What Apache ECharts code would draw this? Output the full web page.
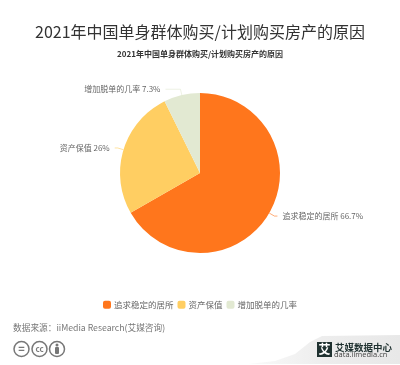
<!DOCTYPE html>
<html>
<head>
<meta charset="utf-8">
<style>
html,body{margin:0;padding:0;background:#fff}
#chart{width:400px;height:365px}
</style>
<script src="https://cdn.jsdelivr.net/npm/echarts@6/dist/echarts.min.js"></script>
</head>
<body>
<div id="chart"></div>
<script>
var cjk = '"Noto Sans CJK SC"';
var categories = ['追求稳定的居所', '资产保值', '增加脱单的几率'];
var values = [66.7, 26, 7.3];
var colors = ['#FF761C', '#FFCE62', '#E2E9D2'];
var mainTitle = '2021年中国单身群体购买/计划购买房产的原因';
var sourceText = '数据来源：iiMedia Research(艾媒咨询)';

var chart = echarts.init(document.getElementById('chart'));

//右下角logo和cc图标
function ccIcon(cx, label, font){
	return [{
		type: 'circle', shape: {cx: cx, cy: 349, r: 7.5}, style: {fill: '#fff', stroke: '#777', lineWidth: 1.5}
	}, {
		type: 'text', x: cx, y: 349,
		style: {text: label, font: font + ' ' + cjk, fill: '#777', align: 'center', verticalAlign: 'middle'}
	}];
}
var graphics = [{
	type: 'polygon',
	shape: {points: [[248, 364], [275, 361], [295, 354], [310, 342], [322, 336], [400, 335], [400, 364]]},
	style: {fill: new echarts.graphic.LinearGradient(0, 0, 1, 0, [
		{offset: 0, color: '#FAFAFA'},
		{offset: 0.5, color: '#EDEDED'},
		{offset: 1, color: '#E8E8E8'}
	])}
}, {
	type: 'rect', shape: {x: 317, y: 342, width: 15, height: 15},
	style: {fill: '#1F3130'}
}, {
	type: 'text', x: 324.5, y: 349.5,
	style: {text: '艾', font: 'bold 12px ' + cjk, fill: '#fff', align: 'center', verticalAlign: 'middle'}
}, {
	type: 'text', x: 335, y: 347,
	style: {text: '艾媒数据中心', font: 'bold 9.5px ' + cjk, fill: '#1F3130', verticalAlign: 'middle'}
}, {
	type: 'text', x: 334, y: 354.5,
	style: {text: 'data.iimedia.cn', font: '7.5px "Open Sans"', fill: '#444', verticalAlign: 'middle'}
}].concat(ccIcon(21.5, '=', 'bold 11px'), ccIcon(39.5, 'cc', 'bold 8px'), [{
	type: 'circle', shape: {cx: 57, cy: 349, r: 7.5}, style: {fill: '#fff', stroke: '#777', lineWidth: 1.5}
}, {
	type: 'circle', shape: {cx: 57, cy: 345, r: 1.5}, style: {fill: '#777'}
}, {
	type: 'rect', shape: {x: 55, y: 347, width: 4, height: 7, r: 1}, style: {fill: '#777'}
}]);

var option = {
	backgroundColor: '#fff',
	animation: false,
	color: colors,
	title: [{
		text: mainTitle, left: 'center', top: 19,
		textStyle: {fontFamily: cjk, fontSize: 16, fontWeight: 'normal', color: '#333'}
	}, {
		text: mainTitle, left: 'center', top: 45,
		textStyle: {fontFamily: cjk, fontSize: 8, fontWeight: 'bold', color: '#333'}
	}, {
		text: sourceText, left: 8, top: 318,
		textStyle: {fontFamily: cjk, fontSize: 8.7, fontWeight: 'normal', color: '#777'}
	}],
	legend: {
		bottom: 51,
		left: 'center',
		itemWidth: 8,
		itemHeight: 8,
		itemGap: 4,
		icon: 'roundRect',
		textStyle: {fontFamily: cjk, fontSize: 8.5, color: '#666', padding: [0, 0, 0, -2]},
		data: categories
	},
	series: [{
		type: 'pie',
		center: [200, 173],
		radius: [0, 80],
		startAngle: 90,
		label: {
			formatter: '{b} {c}%',
			fontFamily: cjk,
			fontSize: 8,
			color: '#666'
		},
		labelLine: {length: 6, length2: 3, lineStyle: {width: 0.6}},
		itemStyle: {borderWidth: 0},
		data: categories.map(function(name, i){
			var item = {name: name, value: values[i]};
			//第三项引导线要长一点
			if(i == 2){
				item.labelLine = {length: 6, length2: 15};
			}
			return item;
		})
	}],
	graphic: {elements: graphics}
};
chart.setOption(option);
</script>
</body>
</html>
